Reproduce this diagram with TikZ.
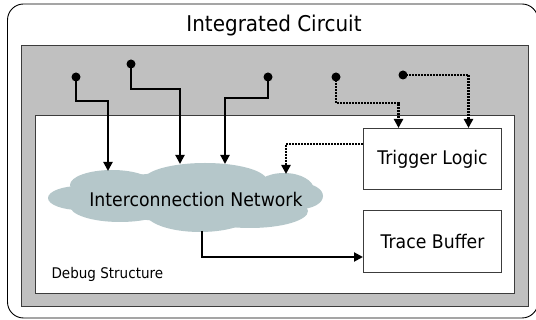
\documentclass[tikz,border=0pt]{standalone}
\usepackage{fontspec}
\setmainfont[FakeStretch=0.92]{DejaVu Sans}
\usetikzlibrary{arrows.meta,calc}
\definecolor{chipgray}{RGB}{192,192,192}
\definecolor{cloudfill}{RGB}{181,199,202}
\definecolor{edgegray}{RGB}{60,60,60}
\begin{document}
\begin{tikzpicture}[x=1pt,y=-1pt,
  panel/.style={draw=edgegray,line width=1pt,anchor=north west,inner sep=0pt},
  block/.style={panel,fill=white},
  label/.style={font=\fontsize{18.8}{22}\selectfont},
  pin/.style={circle,fill=black,inner sep=0pt,minimum size=9pt},
  wire/.style={line width=2pt,-{Triangle[length=9pt,width=9pt]}},
  probe/.style={line width=2.5pt,dash pattern=on 2pt off 1pt,
    -{Triangle[length=9pt,width=9pt]}}]
\useasboundingbox (0,0) rectangle (536,320);

% package outline
\draw[line width=0.9pt,rounded corners=16pt] (7.5,4) rectangle (538,318);
\node[font=\fontsize{21.7}{25}\selectfont] (title) at (274,26) {Integrated Circuit};

% die and debug region
\node[panel,fill=chipgray,minimum width=507pt,minimum height=261pt] (die) at (21,45) {};
\node[panel,fill=white,minimum width=479pt,minimum height=178pt] (debug) at (35,115) {};
\node[anchor=west,font=\fontsize{14.7}{17}\selectfont] (dlabel) at (48,274) {Debug Structure};

% debug blocks
\node[block,minimum width=138pt,minimum height=61pt] (trig) at (363,128) {};
\node[label] at (trig.center) {Trigger Logic};
\node[block,minimum width=138pt,minimum height=62pt] (trace) at (363,210) {};
\node[label] at (trace.center) {Trace Buffer};

% interconnection cloud, built from overlapping lobes
\begin{scope}[fill=cloudfill]
  \fill (190,197) ellipse [x radius=110pt, y radius=25pt];
  \fill (80,198)  ellipse [x radius=32pt,  y radius=12pt];
  \fill (112,185) ellipse [x radius=42pt,  y radius=15pt];
  \fill (205,181) ellipse [x radius=62pt,  y radius=18pt];
  \fill (284,190) ellipse [x radius=30pt,  y radius=17pt];
  \fill (300,196) ellipse [x radius=23pt,  y radius=13pt];
  \fill (120,206) ellipse [x radius=50pt,  y radius=16pt];
  \fill (200,212) ellipse [x radius=55pt,  y radius=20pt];
  \fill (250,211) ellipse [x radius=58pt,  y radius=17pt];
\end{scope}
\node[minimum width=276pt,minimum height=69pt,inner sep=0pt] (net) at (185,198) {};
\node[label] (netlabel) at (196,199) {Interconnection Network};

% signal pins
\node[pin] (p1) at (76,77) {};
\node[pin] (p2) at (131,64) {};
\node[pin] (p3) at (268,77) {};
\node[pin] (p4) at (336,77) {};
\node[pin] (p5) at (403,75) {};

% entry points on the cloud
\coordinate (n1) at (108,171);
\coordinate (n2) at (180,164);
\coordinate (n3) at (225,164);
\coordinate (n4) at (286,174);
\coordinate (n5) at (202,231);

% observed signals into the network
\draw[wire] (p1.center) |- ($(n1)+(0,-70)$) -- (n1);
\draw[wire] (p2.center) |- ($(n2)+(0,-75)$) -- (n2);
\draw[wire] (p3.center) |- ($(n3)+(0,-66)$) -- (n3);

% trigger inputs
\draw[probe] (p4.center) |- ($(trig.north)+(-34,-25)$) -- ($(trig.north)+(-34,0)$);
\draw[probe] (p5.center) -| ($(trig.north)+(36,0)$);
\draw[probe] ($(trig.west)+(0,-15)$) -| (n4);

% network to trace buffer
\draw[wire] (n5) |- (trace.west |- 0,257);
\end{tikzpicture}
\end{document}
